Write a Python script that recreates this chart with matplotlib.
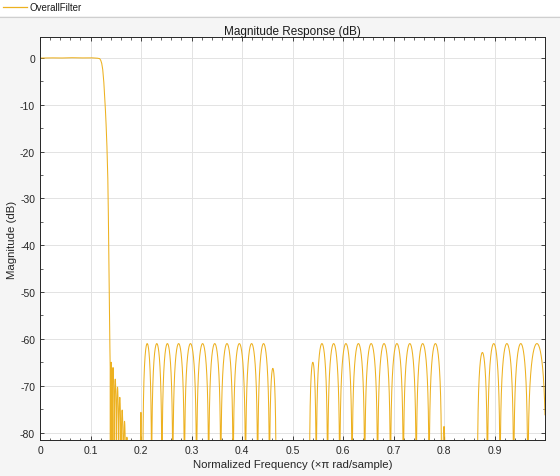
import numpy as np
import matplotlib
matplotlib.use("Agg")
import matplotlib.pyplot as plt
from matplotlib.lines import Line2D
from matplotlib.patches import Rectangle
from matplotlib.ticker import MultipleLocator

plt.rcParams['font.family'] = ['Liberation Sans', 'DejaVu Sans']
plt.rcParams['axes.unicode_minus'] = False

# ---- data ----
series_name = "OverallFilter"
title = "Magnitude Response (dB)"
x_label = "Normalized Frequency (\u00d7\u03c0 rad/sample)"
y_label = "Magnitude (dB)"

# passband and transition edge (freq in x pi rad/sample, magnitude dB)
edge_freq = [0.0, 0.02, 0.04, 0.06, 0.08, 0.10, 0.112, 0.118, 0.120, 0.122, 0.124,
             0.126, 0.128, 0.130, 0.132, 0.134, 0.135, 0.136, 0.137, 0.138, 0.139]
edge_db = [0.0, 0.05, 0.0, 0.08, 0.02, 0.06, 0.0, -0.1, -0.4, -1.0, -2.2,
           -4.5, -8.0, -12.0, -17.0, -24.0, -30.0, -40.0, -50.0, -59.0, -66.0]

# stopband lobes: null frequencies bounding each lobe and lobe peak levels
spike_nulls = [0.1395, 0.1425, 0.1467, 0.1512, 0.1557, 0.1603, 0.1650, 0.1697, 0.1745]
spike_peaks = [-65.0, -66.1, -68.6, -70.3, -72.5, -75.2, -77.6, -81.0]

lone_nulls_a = [0.1985, 0.2012]
lone_peaks_a = [-75.7]

band_a_nulls = [0.2035, 0.221, 0.2415, 0.263, 0.286, 0.310, 0.334, 0.358,
                0.3825, 0.407, 0.431, 0.4544, 0.4677]
band_a_peaks = [-61, -61, -61, -61, -61, -61, -61, -61, -61, -61, -61, -66.3]

band_b_nulls = [0.5335, 0.547, 0.5695, 0.5935, 0.618, 0.643, 0.6685, 0.694,
                0.7195, 0.745, 0.7705, 0.7955]
band_b_peaks = [-65.0, -61, -61, -61, -61, -61, -61, -61, -61, -61, -61]

lone_nulls_b = [0.797, 0.803]
lone_peaks_b = [-78.7]

band_c_nulls = [0.866, 0.886, 0.911, 0.938, 0.966, 1.002]
band_c_peaks = [-62.9, -61, -61, -61, -61]

y_ticks = [0, -10, -20, -30, -40, -50, -60, -70, -80]
x_ticks = [0, 0.1, 0.2, 0.3, 0.4, 0.5, 0.6, 0.7, 0.8, 0.9]

# ---- build the drawn response (lobe arches between the read nulls) ----
floor_db = -140.0
f = np.linspace(0, 1, 40001)
mag = np.full_like(f, floor_db)
m = f <= edge_freq[-1]
mag[m] = np.interp(f[m], edge_freq, edge_db)

def add_lobes(nulls, peaks):
    for a, b, p in zip(nulls[:-1], nulls[1:], peaks):
        sel = (f > a) & (f < b)
        t = (f[sel] - a) / (b - a)
        mag[sel] = np.maximum(p + 20 * np.log10(np.maximum(np.sin(np.pi * t), 1e-7)), floor_db)

for nl, pk in [(spike_nulls, spike_peaks), (lone_nulls_a, lone_peaks_a),
               (band_a_nulls, band_a_peaks), (band_b_nulls, band_b_peaks),
               (lone_nulls_b, lone_peaks_b), (band_c_nulls, band_c_peaks)]:
    add_lobes(nl, pk)

# ---- figure ----
W, H = 560, 477
fig = plt.figure(figsize=(W / 100, H / 100), dpi=100, facecolor='#f5f5f5')

# legend strip at top
fig.patches.append(Rectangle((0, 1 - 17 / H), 1, 17 / H, transform=fig.transFigure,
                             facecolor='white', edgecolor='none', zorder=0))
fig.lines.append(Line2D([0, 1], [1 - 17.5 / H, 1 - 17.5 / H], transform=fig.transFigure,
                        color='#cfcfcf', lw=0.8))
fig.lines.append(Line2D([3 / W, 27 / W], [1 - 8 / H, 1 - 8 / H], transform=fig.transFigure,
                        color='#EDB120', lw=0.9))
fig.text(29 / W, 1 - 8 / H, series_name, fontsize=7.0, va='center', ha='left', color='#1a1a1a')

ax = fig.add_axes([40 / W, 36 / H, (545 - 40) / W, (441 - 38) / H])
ax.set_facecolor('white')
ax.plot(f, mag, color='#EDB120', lw=0.75, solid_joinstyle='round')

ax.set_xlim(0, 1)
ax.set_ylim(-81.6, 4.5)
ax.set_xticks(x_ticks)
ax.set_xticklabels([f"{v:g}" for v in x_ticks])
ax.set_yticks(y_ticks)
ax.set_yticklabels([f"{v:g}" for v in y_ticks])
ax.xaxis.set_minor_locator(MultipleLocator(0.02))
ax.yaxis.set_minor_locator(MultipleLocator(5))
ax.tick_params(which='both', direction='in', top=True, right=True, colors='#262626',
               labelsize=7.5, labelcolor='#262626')
ax.tick_params(which='major', length=3.0, width=0.6)
ax.tick_params(which='minor', length=1.8, width=0.5)
ax.grid(True, which='major', color='#e3e3e3', lw=0.7)
ax.set_axisbelow(True)
for s in ax.spines.values():
    s.set_color('#262626')
    s.set_linewidth(0.7)

ax.set_title(title, fontsize=8.5, color='#1a1a1a', pad=1.5)
ax.set_xlabel(x_label, fontsize=8.2, color='#262626', labelpad=3)
ax.set_ylabel(y_label, fontsize=8.2, color='#262626', labelpad=2)

fig.savefig("out.png", dpi=100, facecolor=fig.get_facecolor())
